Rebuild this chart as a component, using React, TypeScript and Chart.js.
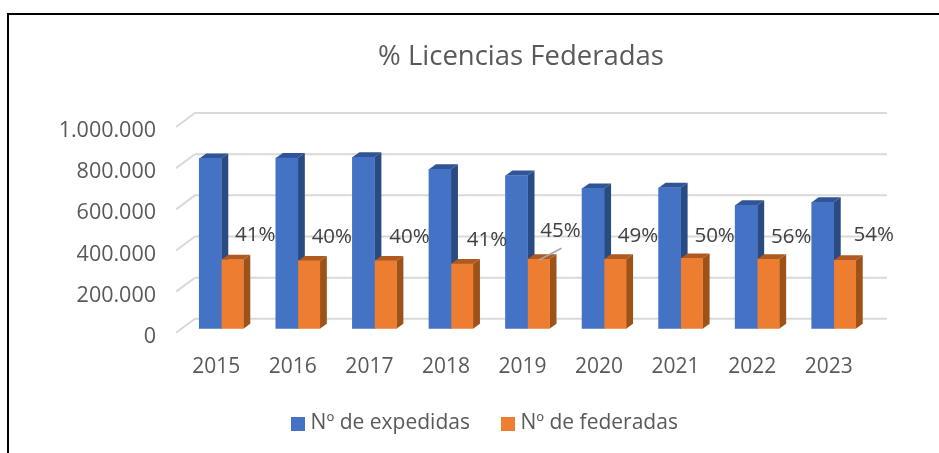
import React, { useEffect, useRef } from "react";
import { Chart, registerables } from "chart.js";

Chart.register(...registerables);

const categories = ["2015", "2016", "2017", "2018", "2019", "2020", "2021", "2022", "2023"];
const expedidas = [828000, 830000, 833000, 775000, 745000, 682000, 685000, 600000, 615000];
const federadas = [335000, 330000, 330000, 315000, 338000, 338000, 342000, 338000, 333000];
const percentLabels = ["41%", "40%", "40%", "41%", "45%", "49%", "50%", "56%", "54%"];
const labelShiftX = [23, 23, 24, 25, 22, 23, 23, 23, 29];
const labelShiftY = [-25, -24, -24, -24, -28, -23, -22, -22, -25];

const FONT = "'Open Sans', sans-serif";
const TEXT = "#595959";
const GRID = "#d9d9d9";
const FRONTS = ["#4472c4", "#ed7d31"];
const SIDES = ["#2a4a82", "#9c5218"];
const TOPS = ["#2f5597", "#ae5a21"];
const DEPTH_X = 7;
const DEPTH_Y = 5;

function swatch(color: string) {
  const c = document.createElement("canvas");
  c.width = 14;
  c.height = 14;
  const g = c.getContext("2d")!;
  g.fillStyle = color;
  g.fillRect(0, 0, 14, 14);
  return c;
}

function shiftLabels(scale: any, dx: number, dy: number) {
  if (scale.__shifted) return;
  scale.__shifted = true;
  const original = scale.drawLabels.bind(scale);
  scale.drawLabels = (area: any) => {
    const ctx = scale.ctx;
    ctx.save();
    ctx.translate(dx, dy);
    original(area);
    ctx.restore();
  };
}

function drawBarBodies(chart: any, i: number) {
  const { ctx } = chart;
  for (const bar of chart.getDatasetMeta(i).data) {
    const { x, y, base, width } = bar.getProps(["x", "y", "base", "width"], true);
    const r = x + width / 2;
    const l = x - width / 2;
    ctx.fillStyle = SIDES[i];
    ctx.beginPath();
    ctx.moveTo(r, y);
    ctx.lineTo(r + DEPTH_X, y - DEPTH_Y);
    ctx.lineTo(r + DEPTH_X, base - DEPTH_Y);
    ctx.lineTo(r, base);
    ctx.closePath();
    ctx.fill();
    ctx.fillStyle = TOPS[i];
    ctx.beginPath();
    ctx.moveTo(l, y);
    ctx.lineTo(l + DEPTH_X, y - DEPTH_Y);
    ctx.lineTo(r + DEPTH_X, y - DEPTH_Y);
    ctx.lineTo(r, y);
    ctx.closePath();
    ctx.fill();
  }
}

const chart3d = {
  id: "chart3d",
  afterLayout(chart: any) {
    chart.legend.left += 51;
    chart.legend.right += 51;
    chart.legend.top -= 21;
    chart.legend.bottom -= 21;
    chart.titleBlock.left += 85;
    chart.titleBlock.right += 85;
  },
  beforeDraw(chart: any) {
    shiftLabels(chart.scales.y, 0, 8);
    shiftLabels(chart.scales.x, -5, 0);
  },
  beforeDatasetsDraw(chart: any) {
    const { ctx, chartArea, scales } = chart;
    const left = chartArea.left - 7;
    const backLeft = chartArea.left + 12;
    const backRight = chartArea.right + 15;
    ctx.save();
    ctx.strokeStyle = GRID;
    ctx.lineWidth = 2;
    for (const t of scales.y.ticks) {
      const y = scales.y.getPixelForValue(t.value);
      ctx.beginPath();
      ctx.moveTo(left, y + 4);
      ctx.lineTo(backLeft, y - 10);
      ctx.lineTo(backRight, y - 10);
      ctx.stroke();
    }
    drawBarBodies(chart, 0);
    drawBarBodies(chart, 1);
    ctx.restore();
  },
  afterDatasetsDraw(chart: any) {
    const { ctx } = chart;
    const meta = chart.getDatasetMeta(1);
    ctx.save();
    ctx.font = `20.5px ${FONT}`;
    ctx.fillStyle = "#404040";
    ctx.textAlign = "center";
    ctx.textBaseline = "middle";
    percentLabels.forEach((text, i) => {
      const bar = meta.data[i];
      ctx.fillText(text, bar.x + labelShiftX[i], bar.y + labelShiftY[i]);
    });
    const leader = meta.data[4];
    ctx.strokeStyle = "#a6a6a6";
    ctx.lineWidth = 1.5;
    ctx.beginPath();
    ctx.moveTo(leader.x, leader.y + 1);
    ctx.lineTo(leader.x + 23, leader.y - 11);
    ctx.stroke();
    ctx.restore();
  },
};

export default function App() {
  const ref = useRef<HTMLCanvasElement>(null);
  useEffect(() => {
    document.body.style.margin = "0";
    const chart = new Chart(ref.current!, {
      type: "bar",
      data: {
        labels: categories,
        datasets: [
          { label: "Nº de expedidas", data: expedidas, backgroundColor: FRONTS[0] },
          { label: "Nº de federadas", data: federadas, backgroundColor: FRONTS[1] },
        ],
      },
      options: {
        animation: false,
        responsive: false,
        layout: { padding: { left: 0, right: 67, top: 41, bottom: -12 } },
        datasets: { bar: { barThickness: 22, categoryPercentage: 1, barPercentage: 1 } },
        scales: {
          x: {
            grid: { display: false },
            border: { display: false },
            ticks: { color: TEXT, font: { family: FONT, size: 21 }, padding: 18, maxRotation: 0, autoSkip: false },
          },
          y: {
            min: 0,
            max: 1000000,
            afterFit(scale: any) {
              scale.width = 183;
            },
            grid: { display: false },
            border: { display: false },
            ticks: {
              stepSize: 200000,
              color: TEXT,
              padding: 19,
              font: { family: FONT, size: 21.5 },
              callback: (v: any) => Number(v).toLocaleString("de-DE"),
            },
          },
        },
        plugins: {
          tooltip: { enabled: false },
          title: {
            display: true,
            text: "% Licencias Federadas",
            color: TEXT,
            font: { family: FONT, size: 27.5, weight: "normal" },
            padding: { top: 0, bottom: 49 },
          },
          legend: {
            position: "bottom",
            labels: {
              color: TEXT,
              font: { family: FONT, size: 21 },
              usePointStyle: true,
              boxWidth: 4,
              boxHeight: 14,
              padding: 36,
              generateLabels: (c: any) =>
                c.data.datasets.map((d: any, i: number) => ({
                  text: d.label,
                  fontColor: TEXT,
                  datasetIndex: i,
                  pointStyle: swatch(FRONTS[i]),
                })),
            },
          },
        },
      } as any,
      plugins: [chart3d],
    });
    return () => chart.destroy();
  }, []);
  return (
    <div style={{ position: "relative", width: 939, height: 453, overflow: "hidden", background: "#fff" }}>
      <canvas ref={ref} width={939} height={453} style={{ display: "block" }} />
      <div style={{ position: "absolute", left: 7, top: 13, width: 932, height: 2, background: "#000" }} />
      <div style={{ position: "absolute", left: 7, top: 13, width: 2, height: 440, background: "#000" }} />
    </div>
  );
}
